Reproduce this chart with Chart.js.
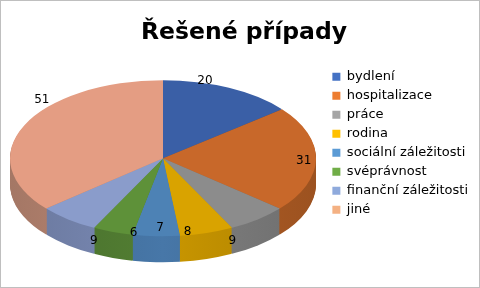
<!DOCTYPE html>
<html>
<head>
<meta charset="utf-8">
<script src="https://cdn.jsdelivr.net/npm/chart.js@4/dist/chart.umd.min.js"></script>
<style>
  html, body { margin: 0; padding: 0; background: #fff; }
  #graf { display: block; }
</style>
</head>
<body>
<canvas id="graf" width="480" height="288"></canvas>
<script>
var kategorie = ['bydlení', 'hospitalizace', 'práce', 'rodina', 'sociální záležitosti', 'svéprávnost', 'finanční záležitosti', 'jiné'];
var pocty = [20, 31, 9, 8, 7, 6, 9, 51];

// barvy: horní plocha, bok a legenda
var barvyHorni = ['#3A5FA6', '#C8682A', '#8C8C8C', '#D9A300', '#4D82B5', '#5E9139', '#8A9CCB', '#E49D83'];
var barvyBok = ['#2E4C86', '#B55F25', '#808080', '#C99600', '#4777A8', '#537F33', '#7B8BB7', '#BF8A76'];
var barvyLegenda = ['#4472C4', '#ED7D31', '#A5A5A5', '#FFC000', '#5B9BD5', '#70AD47', '#8FAADC', '#F4B183'];

function ztmavit(hex, k) {
    var n = parseInt(hex.slice(1), 16);
    var r = Math.round(((n >> 16) & 255) * k);
    var g = Math.round(((n >> 8) & 255) * k);
    var b = Math.round((n & 255) * k);
    return 'rgb(' + r + ',' + g + ',' + b + ')';
}

// 3D kolac - zplostely a vytazeny dolu
var kolac3d = {
    id: 'kolac3d',
    beforeDatasetsDraw: function (chart, args, opts) {
        var ctx = chart.ctx;
        var area = chart.chartArea;
        var arcs = chart.getDatasetMeta(0).data;
        if (!arcs.length) return false;
        var a0 = arcs[0];
        var r = a0.outerRadius;
        var rx = opts.rx, ry = opts.rx * opts.tilt, hloubka = opts.depth;
        var cx = area.left + rx;
        var cy = area.top + opts.top + ry;

        function transformace(dy) {
            ctx.translate(cx, cy + dy);
            ctx.scale(rx / r, ry / r);
            ctx.translate(-a0.x, -a0.y);
        }

        // bocni stena - vrstvy odspodu
        var prechody = [];
        ctx.save();
        transformace(0);
        barvyBok.forEach(function (c, i) {
            var g = ctx.createLinearGradient(a0.x - r, 0, a0.x + r, 0);
            g.addColorStop(0, ztmavit(c, 0.86));
            g.addColorStop(0.5, c);
            g.addColorStop(1, ztmavit(c, 0.86));
            prechody.push(g);
        });
        ctx.restore();

        for (var d = hloubka; d > 0; d--) {
            ctx.save();
            transformace(d);
            arcs.forEach(function (arc, i) {
                var puvodni = arc.options;
                arc.options = Object.assign({}, puvodni, { backgroundColor: prechody[i] });
                arc.draw(ctx);
                arc.options = puvodni;
            });
            ctx.restore();
        }

        // horni plocha
        ctx.save();
        transformace(0);
        arcs.forEach(function (arc) {
            arc.draw(ctx);
        });
        ctx.restore();

        // popisky hodnot
        ctx.save();
        ctx.font = '12px "DejaVu Sans"';
        ctx.fillStyle = '#000';
        ctx.textAlign = 'center';
        ctx.textBaseline = 'middle';
        var hodnoty = chart.data.datasets[0].data;
        arcs.forEach(function (arc, i) {
            var m = (arc.startAngle + arc.endAngle) / 2;
            var s = Math.cos(m);
            var c = -Math.sin(m);
            var x = cx + rx * s * (0.42 + 0.5 * Math.abs(s));
            var y = cy - 2.13 * ry * c * (1.42 - Math.abs(c));
            if (c > 0 && c < 0.6) y += 12;
            ctx.fillText(String(hodnoty[i]), x, y);
        });
        ctx.restore();
        return false;
    },
    afterDraw: function (chart) {
        var ctx = chart.ctx;
        ctx.save();
        ctx.strokeStyle = '#BFBFBF';
        ctx.lineWidth = 1;
        ctx.strokeRect(0.5, 0.5, chart.width - 1, chart.height - 1);
        ctx.restore();
    }
};

var ctx = document.getElementById('graf').getContext('2d');
var graf = new Chart(ctx, {
    type: 'pie',
    data: {
        labels: kategorie,
        datasets: [{
            data: pocty,
            backgroundColor: barvyHorni,
            borderWidth: 0
        }]
    },
    options: {
        responsive: false,
        animation: false,
        events: [],
        layout: { padding: { left: 10, right: 2, top: 0, bottom: 10 } },
        plugins: {
            title: {
                display: true,
                text: 'Řešené případy',
                color: '#000',
                font: { family: 'DejaVu Sans', size: 23.5, weight: 'bold' },
                padding: { top: 19, bottom: 17 }
            },
            legend: {
                position: 'right',
                align: 'start',
                fullSize: false,
                labels: {
                    boxWidth: 8,
                    boxHeight: 8,
                    padding: 6,
                    color: '#000',
                    font: { family: 'DejaVu Sans', size: 13 },
                    generateLabels: function (chart) {
                        return chart.data.labels.map(function (t, i) {
                            return {
                                text: t,
                                fillStyle: barvyLegenda[i],
                                strokeStyle: barvyLegenda[i],
                                lineWidth: 0,
                                hidden: false,
                                index: i
                            };
                        });
                    }
                }
            },
            tooltip: { enabled: false },
            kolac3d: { rx: 153, tilt: 0.51, depth: 26, top: 16 }
        }
    },
    plugins: [kolac3d]
});
</script>
</body>
</html>
